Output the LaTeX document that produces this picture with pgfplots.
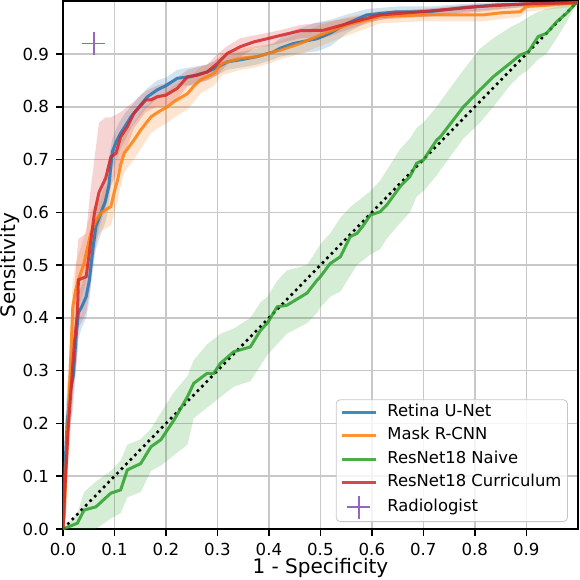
\documentclass[border=0pt]{standalone}
\usepackage{pgfplots}
\pgfplotsset{compat=1.18}
\usepackage{pgfplotstable}
\usepgfplotslibrary{fillbetween}
\usepackage{fontspec}
\setmainfont{DejaVu Sans}
\definecolor{tabblue}{HTML}{1F77B4}
\definecolor{taborange}{HTML}{FF7F0E}
\definecolor{tabgreen}{HTML}{2CA02C}
\definecolor{tabred}{HTML}{D62728}
\definecolor{tabpurple}{HTML}{9467BD}
\definecolor{gridgray}{HTML}{C8C8C8}

\pgfplotstableread{
x y lo hi
0 0 0 0
0.004 0.12 0.06 0.20
0.008 0.20 0.13 0.27
0.014 0.26 0.20 0.32
0.020 0.29 0.23 0.36
0.026 0.37 0.31 0.42
0.030 0.41 0.36 0.45
0.036 0.42 0.38 0.46
0.045 0.44 0.40 0.49
0.051 0.47 0.43 0.52
0.058 0.53 0.49 0.57
0.064 0.573 0.53 0.60
0.074 0.60 0.56 0.63
0.082 0.62 0.58 0.66
0.089 0.65 0.61 0.70
0.096 0.715 0.68 0.74
0.104 0.735 0.70 0.76
0.112 0.75 0.72 0.775
0.122 0.765 0.74 0.79
0.132 0.781 0.76 0.80
0.148 0.80 0.78 0.82
0.164 0.819 0.80 0.835
0.183 0.832 0.815 0.85
0.200 0.84 0.825 0.855
0.222 0.854 0.84 0.87
0.248 0.857 0.84 0.875
0.280 0.866 0.85 0.88
0.300 0.875 0.86 0.89
0.319 0.885 0.87 0.90
0.350 0.89 0.875 0.905
0.377 0.895 0.88 0.91
0.409 0.904 0.89 0.92
0.422 0.911 0.895 0.93
0.448 0.92 0.90 0.945
0.494 0.929 0.905 0.96
0.520 0.94 0.915 0.965
0.552 0.958 0.94 0.975
0.590 0.974 0.96 0.985
0.649 0.98 0.97 0.99
0.710 0.98 0.97 0.99
0.780 0.988 0.98 0.995
0.842 0.993 0.985 0.998
0.920 0.995 0.99 0.999
1.000 0.997 0.995 1.0
}\bluetab

\pgfplotstableread{
x y lo hi
0 0 0 0
0.003 0.03 0.01 0.08
0.006 0.12 0.06 0.20
0.012 0.25 0.18 0.33
0.019 0.42 0.36 0.47
0.024 0.45 0.39 0.50
0.030 0.472 0.42 0.52
0.040 0.50 0.45 0.55
0.048 0.535 0.49 0.58
0.054 0.56 0.52 0.60
0.064 0.585 0.55 0.62
0.075 0.60 0.565 0.64
0.093 0.611 0.575 0.66
0.100 0.64 0.60 0.69
0.106 0.661 0.62 0.71
0.112 0.69 0.65 0.735
0.119 0.712 0.675 0.75
0.138 0.737 0.70 0.77
0.151 0.756 0.72 0.79
0.171 0.781 0.75 0.81
0.185 0.79 0.76 0.82
0.203 0.80 0.77 0.83
0.216 0.81 0.78 0.84
0.242 0.825 0.795 0.855
0.255 0.84 0.81 0.865
0.267 0.851 0.825 0.875
0.293 0.863 0.84 0.885
0.309 0.882 0.86 0.90
0.345 0.892 0.87 0.91
0.377 0.895 0.875 0.915
0.409 0.904 0.885 0.92
0.422 0.907 0.89 0.925
0.461 0.92 0.90 0.94
0.500 0.936 0.915 0.955
0.552 0.955 0.935 0.97
0.616 0.971 0.958 0.982
0.700 0.974 0.962 0.985
0.816 0.974 0.962 0.985
0.850 0.978 0.966 0.99
0.888 0.98 0.97 0.99
0.900 0.99 0.98 0.997
0.950 0.993 0.985 0.998
1.000 0.997 0.99 1.0
}\orangetab

\pgfplotstableread{
x y lo hi
0 0 0 0
0.028 0.011 0.0 0.03
0.041 0.036 0.0 0.07
0.064 0.042 0.0 0.09
0.093 0.068 0.02 0.11
0.112 0.074 0.03 0.13
0.125 0.112 0.06 0.16
0.151 0.124 0.07 0.17
0.171 0.156 0.11 0.19
0.190 0.169 0.12 0.22
0.216 0.207 0.14 0.26
0.242 0.251 0.16 0.29
0.254 0.276 0.21 0.32
0.280 0.295 0.23 0.35
0.293 0.295 0.24 0.36
0.306 0.314 0.25 0.37
0.332 0.336 0.27 0.38
0.364 0.345 0.28 0.40
0.384 0.377 0.31 0.43
0.397 0.39 0.33 0.44
0.416 0.421 0.35 0.47
0.435 0.424 0.37 0.49
0.474 0.447 0.39 0.50
0.494 0.472 0.41 0.53
0.500 0.478 0.42 0.54
0.519 0.503 0.44 0.56
0.539 0.516 0.45 0.59
0.558 0.554 0.48 0.61
0.571 0.56 0.50 0.62
0.584 0.576 0.51 0.63
0.597 0.595 0.52 0.64
0.616 0.601 0.53 0.66
0.629 0.614 0.55 0.68
0.655 0.649 0.58 0.72
0.674 0.668 0.60 0.74
0.687 0.693 0.63 0.76
0.700 0.699 0.64 0.77
0.726 0.737 0.67 0.80
0.733 0.743 0.68 0.81
0.778 0.80 0.74 0.87
0.810 0.832 0.77 0.91
0.836 0.857 0.80 0.93
0.868 0.882 0.84 0.95
0.888 0.898 0.86 0.96
0.904 0.904 0.87 0.97
0.923 0.933 0.89 0.98
0.939 0.939 0.90 0.985
0.959 0.961 0.93 0.99
0.978 0.977 0.96 0.995
1.000 1.000 1.00 1.00
}\greentab

\pgfplotstableread{
x y lo hi
0 0 0 0
0.004 0.08 0.03 0.15
0.010 0.19 0.12 0.27
0.017 0.282 0.22 0.36
0.022 0.35 0.28 0.45
0.028 0.409 0.33 0.53
0.030 0.472 0.38 0.55
0.045 0.478 0.41 0.56
0.052 0.53 0.45 0.63
0.061 0.598 0.52 0.70
0.070 0.638 0.57 0.77
0.083 0.665 0.61 0.78
0.093 0.705 0.65 0.78
0.103 0.712 0.67 0.785
0.112 0.743 0.70 0.79
0.125 0.762 0.725 0.80
0.138 0.788 0.76 0.81
0.161 0.813 0.79 0.83
0.171 0.813 0.795 0.835
0.183 0.819 0.80 0.84
0.200 0.822 0.80 0.845
0.222 0.835 0.815 0.855
0.242 0.857 0.84 0.87
0.261 0.86 0.845 0.875
0.280 0.866 0.85 0.88
0.300 0.882 0.86 0.90
0.319 0.901 0.88 0.915
0.345 0.914 0.895 0.93
0.371 0.923 0.91 0.935
0.397 0.929 0.915 0.94
0.422 0.935 0.92 0.945
0.461 0.944 0.93 0.955
0.506 0.945 0.93 0.96
0.565 0.961 0.95 0.97
0.616 0.974 0.965 0.98
0.694 0.98 0.97 0.985
0.810 0.99 0.98 0.995
0.900 0.995 0.99 0.998
1.000 0.997 0.995 1.0
}\redtab

\begin{document}
\begin{tikzpicture}
\begin{axis}[
  scale only axis,
  width=257.5pt, height=264pt,
  xmin=0, xmax=1, ymin=0, ymax=1,
  xtick={0,0.1,...,0.91}, ytick={0,0.1,...,0.91},
  xticklabel style={/pgf/number format/.cd, fixed, fixed zerofill, precision=1},
  yticklabel style={/pgf/number format/.cd, fixed, fixed zerofill, precision=1},
  /pgf/number format/assume math mode=true,
  tick label style={font=\fontsize{8.3}{10}\selectfont},
  label style={font=\fontsize{9}{10.8}\selectfont},
  xtick pos=bottom, ytick pos=left,
  tick align=outside, major tick length=3.5pt,
  tick style={black, line width=0.8pt},
  axis line style={black, line width=1pt},
  grid=major,
  major grid style={gridgray, line width=0.8pt},
  every axis x label/.style={at={(axis description cs:0.5,0)}, yshift=-19.5pt, anchor=center},
  every axis y label/.style={at={(axis description cs:0,0.5)}, xshift=-26.5pt, rotate=90, anchor=center},
  xlabel={1 - Specificity},
  ylabel={Sensitivity},
  legend cell align=left,
  legend style={at={(1,0)}, anchor=south east, xshift=-5pt, yshift=3.5pt,
    draw=gray!45, rounded corners=2pt, fill=white, fill opacity=0.8, text opacity=1,
    font=\fontsize{8.2}{9.8}\selectfont, inner xsep=2pt, inner ysep=1.5pt,
    nodes={inner sep=1pt, text height=6pt, text depth=2pt},
    row sep=1.65pt,
    /tikz/every odd column/.append style={column sep=4pt}},
]
% bands
\addplot[name path=bu, draw=none, forget plot] table[x=x,y=hi]{\bluetab};
\addplot[name path=bl, draw=none, forget plot] table[x=x,y=lo]{\bluetab};
\addplot[tabblue, fill opacity=0.2, draw=none, forget plot] fill between[of=bu and bl];
\addplot[name path=ou, draw=none, forget plot] table[x=x,y=hi]{\orangetab};
\addplot[name path=ol, draw=none, forget plot] table[x=x,y=lo]{\orangetab};
\addplot[taborange, fill opacity=0.2, draw=none, forget plot] fill between[of=ou and ol];
\addplot[name path=gu, draw=none, forget plot] table[x=x,y=hi]{\greentab};
\addplot[name path=gl, draw=none, forget plot] table[x=x,y=lo]{\greentab};
\addplot[tabgreen, fill opacity=0.2, draw=none, forget plot] fill between[of=gu and gl];
\addplot[name path=ru, draw=none, forget plot] table[x=x,y=hi]{\redtab};
\addplot[name path=rl, draw=none, forget plot] table[x=x,y=lo]{\redtab};
\addplot[tabred, fill opacity=0.2, draw=none, forget plot] fill between[of=ru and rl];
% diagonal
\addplot[black, line width=1.3pt, dash pattern=on 1.3pt off 1.9pt, forget plot] coordinates {(0,0) (1,1)};
% lines
\addplot[tabblue, line width=1.5pt, opacity=0.85, no marks] table[x=x,y=y]{\bluetab};
\addlegendentry{Retina U-Net}
\addplot[taborange, line width=1.5pt, opacity=0.85, no marks] table[x=x,y=y]{\orangetab};
\addlegendentry{Mask R-CNN}
\addplot[tabgreen, line width=1.5pt, opacity=0.85, no marks] table[x=x,y=y]{\greentab};
\addlegendentry{ResNet18 Naive}
\addplot[tabred, line width=1.5pt, opacity=0.85, no marks] table[x=x,y=y]{\redtab};
\addlegendentry{ResNet18 Curriculum}
\addplot[tabpurple, only marks, mark=+, mark size=5.7pt, line width=0.9pt] coordinates {(0.06,0.92)};
\addlegendentry{Radiologist}
\end{axis}
\pgfresetboundingbox
\useasboundingbox ([xshift=-31.5pt,yshift=-25.5pt]current axis.south west) rectangle ([xshift=1pt,yshift=0.6pt]current axis.north east);
\end{tikzpicture}
\end{document}
